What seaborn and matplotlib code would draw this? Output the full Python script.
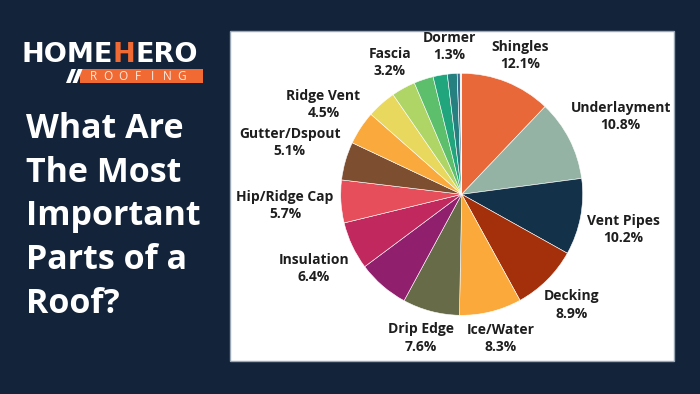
import numpy as np
import matplotlib
matplotlib.use("Agg")
import matplotlib.pyplot as plt
from matplotlib.patches import Rectangle, Polygon
import seaborn as sns

# ---- data ----
labels = ["Shingles", "Underlayment", "Vent Pipes", "Decking", "Ice/Water",
          "Drip Edge", "", "Insulation", "Hip/Ridge Cap", "Gutter/Dspout",
          "Ridge Vent", "", "Fascia", "", "", "Dormer", "", ""]
values = [12.1, 10.8, 10.2, 8.9, 8.3, 7.6, 6.9, 6.4, 5.7, 5.1, 4.5, 3.9,
          3.2, 2.6, 1.9, 1.3, 0.4, 0.2]
colors = ["#E8683A", "#95B3A4", "#13324A", "#A3300A", "#FBA93B", "#676B47",
          "#901F6E", "#C0285E", "#E54E5A", "#7E4E30", "#FAAA3C", "#E8D85E",
          "#AED565", "#5DBE6C", "#21A57C", "#268080", "#3A6F8E", "#DDE6EE"]
title_lines = ["What Are", "The Most", "Important", "Parts of a", "Roof?"]

BG = "#12233A"
ORANGE = "#F26A33"
sns.set_style("white")
plt.rcParams["font.family"] = ["Open Sans", "DejaVu Sans"]

W, H = 700, 394
fig = plt.figure(figsize=(7, 3.94), dpi=100, facecolor=BG)
ax = fig.add_axes([0, 0, 1, 1])
ax.set_facecolor(BG)

# white panel
ax.add_patch(Rectangle((230, H - 361), 444, 330, facecolor="white",
                       edgecolor="#9AA7B5", lw=1, zorder=1))

cx, cy, R = 461.7, H - 194.3, 121
wedges, _ = ax.pie(values, colors=colors, startangle=90, counterclock=False,
                   center=(cx, cy), radius=R, frame=True,
                   wedgeprops=dict(edgecolor="white", linewidth=0.4))
for w in wedges:
    w.set_zorder(2)

ax.set_xlim(0, W)
ax.set_ylim(0, H)
ax.set_aspect("auto")
ax.axis("off")

# labels
total = sum(values)
cum = np.cumsum([0] + values)
label_texts = []
for i, (lab, v) in enumerate(zip(labels, values)):
    if not lab:
        continue
    mid = (cum[i] + v / 2) / total * 2 * np.pi
    s, c = np.sin(mid), np.cos(mid)
    ax_x = cx + 1.06 * R * s
    ax_y = cy + 1.06 * R * c
    t = ax.text(ax_x, ax_y, f"{lab}\n{v:.1f}%", ha="center", va="center",
                fontsize=10, fontweight="bold", color="#1E1E1E",
                linespacing=1.3, zorder=3)
    label_texts.append((t, ax_x, ax_y, s, c))

# title
y0 = H - 137.7
for k, line in enumerate(title_lines):
    ax.text(26, y0 - k * 43.8, line, ha="left", va="baseline", fontsize=24.5,
            fontweight="bold", color="white")

# logo
logo_font = ["DejaVu Sans"]
t1 = ax.text(21, H - 61.7, "HOME", ha="left", va="baseline", fontsize=19.5,
             fontweight="bold", color="white", family=logo_font)
t2 = ax.annotate("H", xy=(1, 0), xycoords=t1, ha="left", va="bottom",
                 fontsize=19.5, fontweight="bold", color=ORANGE,
                 family=logo_font)
t3 = ax.annotate("ERO", xy=(1, 0), xycoords=t2, ha="left", va="bottom",
                 fontsize=19.5, fontweight="bold", color="white",
                 family=logo_font)
ax.add_patch(Rectangle((80, H - 83), 123, 14, facecolor=ORANGE,
                       edgecolor="none"))
for off in (0, 6.5):
    ax.add_patch(Polygon([(66 + off, H - 83), (70.5 + off, H - 83),
                          (76 + off, H - 69), (71.5 + off, H - 69)],
                         closed=True, facecolor="white", edgecolor="none"))
for k, ch in enumerate("ROOFING"):
    ax.text(93 + k * 14.8, H - 76, ch, ha="center", va="center", fontsize=8.5,
            color="#FBEDE4", family=["Open Sans", "DejaVu Sans"])

# adjust labels like outside pie text
fig.canvas.draw()
rend = fig.canvas.get_renderer()
for t, x, y, s, c in label_texts:
    bb = t.get_window_extent(rend)
    w, h = bb.width, bb.height
    dx = s * w / 2
    dy = np.clip(3 * c, -1, 1) * (h / 2 + 4)
    t.set_position((x + dx, y + dy))

fig.savefig("out.png", dpi=100, facecolor=BG)
